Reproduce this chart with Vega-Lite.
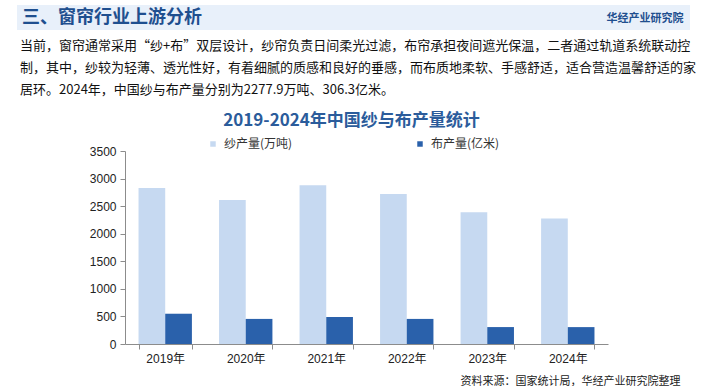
{
  "$schema": "https://vega.github.io/schema/vega-lite/v6.json",
  "padding": {"left": 17, "top": 5, "right": 0, "bottom": 0},
  "spacing": 10,
  "resolve": {"legend": {"color": "independent"}},
  "config": {
    "view": {"stroke": null},
    "font": "Liberation Sans, Noto Sans CJK SC",
    "title": {"font": "Noto Sans CJK SC"}
  },
  "vconcat": [
    {
      "width": 673,
      "height": 25,
      "layer": [
        {
          "data": {"values": [{"band": "header"}]},
          "mark": {"type": "rect", "color": "#e8f0fa"},
          "encoding": {}
        },
        {
          "data": {"values": []},
          "mark": "rect",
          "encoding": {
            "x": {
              "field": "v",
              "type": "quantitative",
              "scale": {"domain": [0, 1]},
              "axis": {
                "orient": "top",
                "zindex": 2,
                "title": "华经产业研究院",
                "titleX": 666,
                "titleAlign": "right",
                "titleAnchor": "end",
                "titleFont": "Noto Sans CJK SC",
                "titleFontSize": 11,
                "titleFontWeight": "bold",
                "titleColor": "#1f4f8f",
                "titlePadding": 0,
                "offset": -18,
                "domain": false,
                "ticks": false,
                "labels": false,
                "grid": false
              }
            }
          }
        }
      ],
      "title": {
        "text": "三、窗帘行业上游分析",
        "anchor": "start",
        "offset": -22,
        "dx": 5,
        "fontSize": 18,
        "fontWeight": "bold",
        "color": "#1f4f8f"
      }
    },
    {
      "width": 673,
      "height": 6,
      "data": {"values": []},
      "mark": "rect",
      "title": {
        "text": [
          "当前，窗帘通常采用“纱+布”双层设计，纱帘负责日间柔光过滤，布帘承担夜间遮光保温，二者通过轨道系统联动控",
          "制，其中，纱较为轻薄、透光性好，有着细腻的质感和良好的垂感，而布质地柔软、手感舒适，适合营造温馨舒适的家",
          "居环。2024年，中国纱与布产量分别为2277.9万吨、306.3亿米。"
        ],
        "anchor": "start",
        "dx": 3,
        "offset": -1,
        "fontSize": 13,
        "fontWeight": "normal",
        "lineHeight": 22,
        "color": "#111111"
      }
    },
    {
      "spacing": 0,
      "resolve": {"legend": {"color": "independent"}},
      "hconcat": [
        {
          "width": 72,
          "height": 1,
          "data": {"values": []},
          "mark": "rect"
        },
        {
          "width": 483,
          "height": 193,
          "title": {
            "text": "2019-2024年中国纱与布产量统计",
            "anchor": "middle",
            "frame": "group",
            "dx": -15,
            "offset": 8,
            "fontSize": 17,
            "fontWeight": "bold",
            "color": "#2b5c9b"
          },
          "data": {
            "values": [
              {"year": "2019年", "series": "纱产量(万吨)", "value": 2827},
              {"year": "2020年", "series": "纱产量(万吨)", "value": 2610},
              {"year": "2021年", "series": "纱产量(万吨)", "value": 2880},
              {"year": "2022年", "series": "纱产量(万吨)", "value": 2719},
              {"year": "2023年", "series": "纱产量(万吨)", "value": 2390},
              {"year": "2024年", "series": "纱产量(万吨)", "value": 2277.9},
              {"year": "2019年", "series": "布产量(亿米)", "value": 549},
              {"year": "2020年", "series": "布产量(亿米)", "value": 455},
              {"year": "2021年", "series": "布产量(亿米)", "value": 490},
              {"year": "2022年", "series": "布产量(亿米)", "value": 455},
              {"year": "2023年", "series": "布产量(亿米)", "value": 307},
              {"year": "2024年", "series": "布产量(亿米)", "value": 306.3}
            ]
          },
          "mark": {"type": "bar"},
          "encoding": {
            "x": {
              "field": "year",
              "type": "nominal",
              "sort": null,
              "scale": {"paddingInner": 0.337, "paddingOuter": 0.168},
              "axis": {
                "title": "资料来源：国家统计局，华经产业研究院整理",
                "titleX": 555,
                "titleY": 37,
                "titleAlign": "right",
                "titleBaseline": "middle",
                "titleFont": "Noto Sans CJK SC",
                "titleFontSize": 11,
                "titleFontWeight": "normal",
                "titleColor": "#222222",
                "labelAngle": 0,
                "labelFontSize": 12,
                "labelColor": "#222222",
                "labelPadding": 4,
                "tickBand": "extent",
                "tickSize": 5,
                "tickColor": "#8c8c8c",
                "domainColor": "#8c8c8c",
                "grid": false
              }
            },
            "xOffset": {
              "field": "series",
              "sort": ["纱产量(万吨)", "布产量(亿米)"],
              "scale": {"paddingInner": 0, "paddingOuter": 0}
            },
            "y": {
              "field": "value",
              "type": "quantitative",
              "scale": {"domain": [0, 3500], "nice": false},
              "axis": {
                "title": null,
                "format": "d",
                "values": [0, 500, 1000, 1500, 2000, 2500, 3000, 3500],
                "labelFontSize": 12,
                "labelColor": "#222222",
                "labelPadding": 4,
                "tickSize": 5,
                "tickColor": "#8c8c8c",
                "domainColor": "#8c8c8c",
                "grid": false
              }
            },
            "color": {
              "field": "series",
              "type": "nominal",
              "scale": {
                "domain": ["纱产量(万吨)", "布产量(亿米)"],
                "range": ["#c6d9f1", "#2a61ab"]
              },
              "legend": {
                "title": null,
                "orient": "none",
                "direction": "horizontal",
                "legendX": 82,
                "legendY": -13,
                "symbolType": "square",
                "symbolSize": 30,
                "symbolStrokeWidth": 0,
                "labelOffset": 5,
                "labelFont": "Noto Sans CJK SC",
                "labelFontSize": 12,
                "labelColor": "#333333",
                "columnPadding": 121
              }
            }
          }
        }
      ]
    }
  ]
}
